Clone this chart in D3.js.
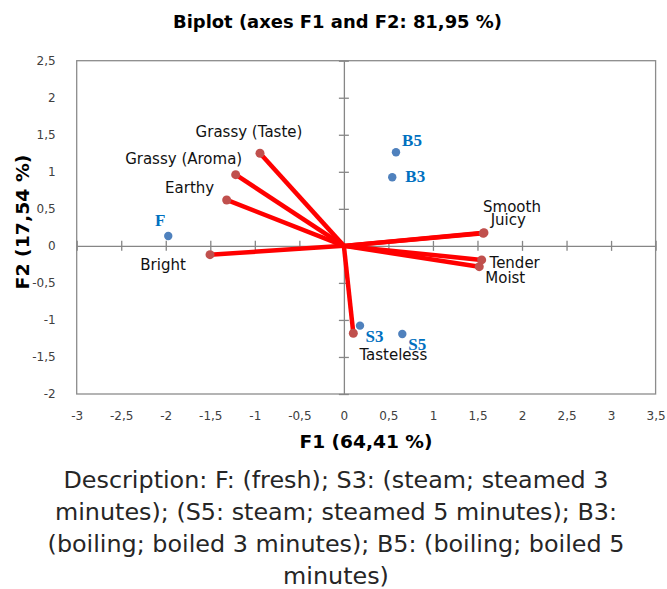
<!DOCTYPE html>
<html><head><meta charset="utf-8">
<script src="https://cdn.jsdelivr.net/npm/d3@7"></script>
<style>body{margin:0;background:#fff}</style>
</head><body>
<svg id="chart" width="667" height="589"></svg>
<script>
// ---- data ----
const variables = ["Grassy (Taste)","Grassy (Aroma)","Earthy","Bright","Smooth","Juicy","Tender","Moist","Tasteless"];
const varF1 = [-0.942,-1.215,-1.316,-1.503,1.573,1.565,1.547,1.520,0.106];
const varF2 = [1.250,0.961,0.620,-0.119,0.178,0.170,-0.190,-0.281,-1.180];
const observations = ["F","S3","S5","B3","B5"];
const obsF1 = [-1.972,0.181,0.656,0.543,0.585];
const obsF2 = [0.134,-1.077,-1.189,0.926,1.264];
const xTickValues = [-3,-2.5,-2,-1.5,-1,-0.5,0,0.5,1,1.5,2,2.5,3,3.5];
const yTickValues = [-2,-1.5,-1,-0.5,0,0.5,1,1.5,2,2.5];
const titleText = "Biplot (axes F1 and F2: 81,95 %)";
const xTitleText = "F1 (64,41 %)";
const yTitleText = "F2 (17,54 %)";
const captionLines = [
  "Description: F: (fresh); S3: (steam; steamed 3",
  "minutes); (S5: steam; steamed 5 minutes); B3:",
  "(boiling; boiled 3 minutes); B5: (boiling; boiled 5",
  "minutes)"
];

// ---- label placement (presentation) ----
const varLabelOffset = {
  "Grassy (Taste)":[-11,-16], "Grassy (Aroma)":[-52,-11], "Earthy":[-37,-7],
  "Bright":[-47,15], "Smooth":[28,-21], "Juicy":[25,-8],
  "Tender":[33,8], "Moist":[26,16], "Tasteless":[40,27]
};
const obsLabelOffset = {
  "F":[-8,-10], "S3":[14.5,16], "S5":[15,16], "B3":[23,5], "B5":[16,-6]
};

const svg = d3.select("#chart");
const x = d3.scaleLinear().domain([-3,3.5]).range([76.7,655.6]);
const y = d3.scaleLinear().domain([-2,2.5]).range([394,60.7]);
const loc = d3.formatLocale({decimal:",",thousands:" ",grouping:[3],currency:["",""],minus:"-"});
const fmt = loc.format("");

function fit(sel, w){
  sel.each(function(){ d3.select(this).attr("textLength", w).attr("lengthAdjust","spacingAndGlyphs"); });
}

// plot border
svg.append("rect").attr("x",x(-3)).attr("y",y(2.5))
  .attr("width",x(3.5)-x(-3)).attr("height",y(-2)-y(2.5))
  .attr("fill","none").attr("stroke","#8c8c8c").attr("stroke-width",1.3);

// tick labels (outside)
const bx = svg.append("g").attr("transform",`translate(0,${y(-2)})`)
  .call(d3.axisBottom(x).tickValues(xTickValues).tickSize(0).tickPadding(17).tickFormat(fmt));
bx.select(".domain").remove();
bx.selectAll("text").attr("font-family","DejaVu Sans").attr("font-size",12).attr("fill","#404040");
const ly = svg.append("g").attr("transform",`translate(${x(-3)},0)`)
  .call(d3.axisLeft(y).tickValues(yTickValues).tickSize(0).tickPadding(21).tickFormat(fmt));
ly.select(".domain").remove();
ly.selectAll("text").attr("font-family","DejaVu Sans").attr("font-size",12).attr("fill","#404040");

// zero axes with crossing ticks
const zx = svg.append("g").attr("transform",`translate(0,${y(0)})`)
  .call(d3.axisBottom(x).tickValues(xTickValues).tickSizeOuter(0).tickFormat(""));
zx.selectAll(".tick line").attr("y1",-5).attr("y2",5);
zx.selectAll("line,path").attr("stroke","#868686").attr("stroke-width",1.3);
const zy = svg.append("g").attr("transform",`translate(${x(0)},0)`)
  .call(d3.axisLeft(y).tickValues(yTickValues).tickSizeOuter(0).tickFormat(""));
zy.selectAll(".tick line").attr("x1",-5).attr("x2",5);
zy.selectAll("line,path").attr("stroke","#868686").attr("stroke-width",1.3);

// observations
const obs = observations.map((n,i)=>({n, f1:obsF1[i], f2:obsF2[i]}));
svg.append("g").selectAll("circle").data(obs).join("circle")
  .attr("cx",d=>x(d.f1)).attr("cy",d=>y(d.f2)).attr("r",4.2).attr("fill","#4F81BD");
svg.append("g").selectAll("text").data(obs).join("text")
  .attr("x",d=>x(d.f1)+obsLabelOffset[d.n][0]).attr("y",d=>y(d.f2)+obsLabelOffset[d.n][1])
  .attr("text-anchor","middle").attr("font-family","Liberation Serif").attr("font-weight","bold")
  .attr("font-size",17).attr("fill","#0070C0").text(d=>d.n);

// variables (vectors)
const vars = variables.map((n,i)=>({n, f1:varF1[i], f2:varF2[i]}));
svg.append("g").selectAll("line").data(vars).join("line")
  .attr("x1",x(0)).attr("y1",y(0)).attr("x2",d=>x(d.f1)).attr("y2",d=>y(d.f2))
  .attr("stroke","#FF0000").attr("stroke-width",4.5);
svg.append("g").selectAll("circle").data(vars).join("circle")
  .attr("cx",d=>x(d.f1)).attr("cy",d=>y(d.f2)).attr("r",4.5).attr("fill","#C0504D");
svg.append("g").selectAll("text").data(vars).join("text")
  .attr("x",d=>x(d.f1)+varLabelOffset[d.n][0]).attr("y",d=>y(d.f2)+varLabelOffset[d.n][1])
  .attr("text-anchor","middle").attr("font-family","DejaVu Sans")
  .attr("font-size",15).attr("fill","#111").text(d=>d.n);

// titles
svg.append("text").attr("x",337.5).attr("y",28.3).attr("text-anchor","middle")
  .attr("font-family","DejaVu Sans").attr("font-weight","bold").attr("font-size",18)
  .attr("fill","#000").text(titleText).call(fit,329);
svg.append("text").attr("x",366).attr("y",448).attr("text-anchor","middle")
  .attr("font-family","DejaVu Sans").attr("font-weight","bold").attr("font-size",18)
  .attr("fill","#000").text(xTitleText).call(fit,133);
svg.append("text").attr("transform","translate(29,222) rotate(-90)").attr("text-anchor","middle")
  .attr("font-family","DejaVu Sans").attr("font-weight","bold").attr("font-size",18)
  .attr("fill","#000").text(yTitleText).call(fit,135);

// caption
const cap = svg.append("g").selectAll("text").data(captionLines).join("text")
  .attr("x",336).attr("y",(d,i)=>488+i*32).attr("text-anchor","middle")
  .attr("font-family","DejaVu Sans").attr("font-size",23.5).attr("fill","#262626").text(d=>d);
const nat0 = cap.nodes()[0].getComputedTextLength();
const ratio = 545/nat0;
cap.each(function(){ const w=this.getComputedTextLength(); d3.select(this).attr("textLength",w*ratio).attr("lengthAdjust","spacingAndGlyphs"); });
</script>
</body></html>
